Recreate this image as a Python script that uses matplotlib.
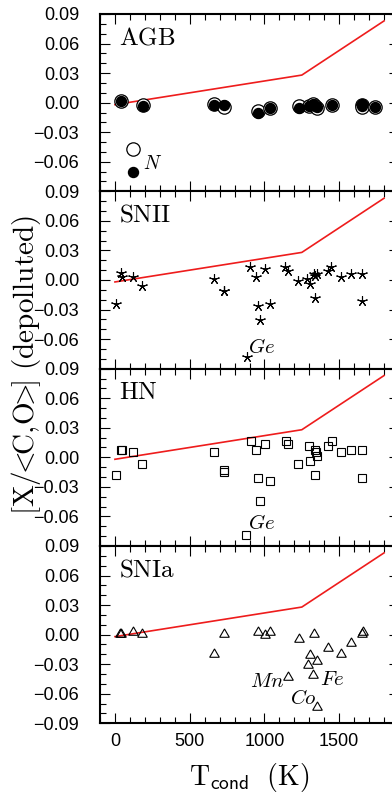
import numpy as np
import matplotlib
matplotlib.use('Agg')
import matplotlib.pyplot as plt
import matplotlib.ticker as mtick

plt.rcParams['mathtext.fontset'] = 'cm'
plt.rcParams['font.family'] = ['Liberation Sans', 'DejaVu Sans']

# THE DATA ****************************************************************

# red reference line (condensation trend)
line_t = [0, 1250, 1800]
line_y = [-0.002, 0.028, 0.083]

# AGB: open = before, filled = depolluted
agb_t = [42, 185, 662, 730, 955, 1039, 1228, 1300, 1325, 1336, 1350, 1455, 1651, 1655, 1740]
agb_open = [0.0014, -0.0027, -0.0010, -0.0044, -0.0089, -0.0050, -0.0034, -0.0030,
            -0.0017, -0.0030, -0.0050, -0.0027, -0.0020, -0.0040, -0.0044]
agb_fill = [0.0017, -0.0037, -0.0027, -0.0027, -0.0102, -0.0050, -0.0050, -0.0030,
            -0.0017, -0.0035, -0.0045, -0.0027, -0.0015, -0.0030, -0.0044]
agb_n_t = 123
agb_n_open = -0.047
agb_n_fill = -0.070

snii_t = [9, 42, 45, 122, 182, 665, 728, 732, 883, 906, 941, 957, 968, 1001, 1037, 1135,
          1155, 1226, 1284, 1302, 1333, 1340, 1351, 1335, 1426, 1444, 1511, 1582, 1653, 1653]
snii_y = [-0.0244, 0.0068, 0.0034, 0.0034, -0.0061, 0.0010, -0.0112, -0.0108, -0.0786,
          0.0136, 0.0030, -0.0264, -0.0410, 0.0112, -0.0240, 0.0136, 0.0092, -0.0010,
          0.0010, -0.0037, 0.0058, 0.0040, 0.0058, -0.0186, 0.0095, 0.0136, 0.0034,
          0.0064, 0.0064, -0.0214]

hn_t = [9, 42, 47, 122, 180, 665, 730, 730, 879, 908, 946, 959, 968, 1003, 1037, 1141,
        1157, 1226, 1295, 1306, 1335, 1346, 1351, 1335, 1426, 1451, 1515, 1582, 1655, 1655]
hn_y = [-0.0178, 0.0079, 0.0079, 0.0051, -0.0065, 0.0051, -0.0127, -0.0150, -0.0790,
        0.0165, 0.0079, -0.0213, -0.0446, 0.0137, -0.0240, 0.0161, 0.0134, -0.0069,
        0.0113, -0.0038, 0.0079, 0.0051, 0.0017, -0.0178, 0.0113, 0.0168, 0.0051,
        0.0079, 0.0079, -0.0213]

snia_t = [35, 42, 122, 180, 665, 728, 955, 1003, 1039, 1228, 1333, 1306, 1293, 1351,
          1328, 1155, 1351, 1426, 1515, 1582, 1653, 1662]
snia_y = [0.0003, 0.0003, 0.0030, 0.0003, -0.0199, 0.0010, 0.0027, -0.0007, 0.0030,
          -0.0045, 0.0010, -0.0206, -0.0310, -0.0271, -0.0411, -0.0429, -0.0734,
          -0.0140, -0.0199, -0.0086, 0.0010, 0.0024]

panel_names = ['AGB', 'SNII', 'HN', 'SNIa']
ytick_vals = [-0.09, -0.06, -0.03, 0.00, 0.03, 0.06, 0.09]
ytick_text = ['\u22120.09', '\u22120.06', '\u22120.03', '0.00', '0.03', '0.06', '0.09']


# THE CHART ***************************************************************

W, H = 392, 793
fig = plt.figure(figsize=(W / 100, H / 100), dpi=100, facecolor='w')

top_px, bot_px = 14, 723.3
ph = (bot_px - top_px) / 4
left_px, right_px = 100, 399

axes = []
for i in range(4):
    b = 1 - (top_px + (i + 1) * ph) / H
    ax = fig.add_axes([left_px / W, b, (right_px - left_px) / W, ph / H])
    axes.append(ax)

for i, ax in enumerate(axes):
    ax.plot(line_t, line_y, color='#ee1c1c', lw=1.2, zorder=3)
    ax.set_xlim(-100, 1900)
    ax.set_ylim(-0.09, 0.09)
    ax.xaxis.set_major_locator(mtick.MultipleLocator(500))
    ax.xaxis.set_minor_locator(mtick.MultipleLocator(100))
    ax.yaxis.set_minor_locator(mtick.MultipleLocator(0.01))
    ax.set_yticks(ytick_vals)
    labels = list(ytick_text)
    if i < 3:
        labels[0] = ''
    ax.set_yticklabels(labels)
    ax.tick_params(which='both', direction='in', top=True, right=True, width=0.8)
    ax.tick_params(which='major', length=7.5)
    ax.tick_params(which='minor', length=4)
    ax.tick_params(axis='y', labelsize=13, pad=15)
    ax.tick_params(axis='x', labelsize=13, pad=7)
    if i < 3:
        ax.tick_params(axis='x', labelbottom=False)
    for s in ax.spines.values():
        s.set_linewidth(1.5)
    ax.text(30, 0.059, r'$\mathrm{%s}$' % panel_names[i], fontsize=18, ha='left', va='baseline')

# AGB panel
ax = axes[0]
ax.plot(agb_t, agb_open, ls='none', marker='o', ms=9.6, mfc='w', mec='k', mew=0.9, zorder=4)
ax.plot(agb_t, agb_fill, ls='none', marker='o', ms=7.2, mfc='k', mec='k', zorder=5)
ax.plot([agb_n_t], [agb_n_open], ls='none', marker='o', ms=9.6, mfc='w', mec='k', mew=0.9)
ax.plot([agb_n_t], [agb_n_fill], ls='none', marker='o', ms=7.2, mfc='k', mec='k')
ax.text(187, -0.0675, r'$N$', fontsize=14, ha='left', va='baseline')

# SNII panel
ax = axes[1]
ax.plot(snii_t, snii_y, ls='none', marker=(5, 2, 0), ms=7.5, mec='k', mew=0.8, zorder=4)
ax.text(892, -0.0742, r'$Ge$', fontsize=15, ha='left', va='baseline')

# HN panel
ax = axes[2]
ax.plot(hn_t, hn_y, ls='none', marker='s', ms=5.8, mfc='none', mec='k', mew=0.8, zorder=4)
ax.text(892, -0.0727, r'$Ge$', fontsize=15, ha='left', va='baseline')

# SNIa panel
ax = axes[3]
ax.plot(snia_t, snia_y, ls='none', marker=(3, 0, 0), ms=8, mfc='none', mec='k', mew=0.8, zorder=4)
ax.text(903, -0.0532, r'$Mn$', fontsize=15, ha='left', va='baseline')
ax.text(1372, -0.0515, r'$Fe$', fontsize=15, ha='left', va='baseline')
ax.text(1171, -0.0700, r'$Co$', fontsize=15, ha='left', va='baseline')

# axis labels
fig.text(26 / W, 1 - 365 / H,
         r'$[\mathrm{X}/\!\!<\!\!\mathrm{C},\!\mathrm{O}\!\!>\!\!]\ \mathrm{(depolluted)}$',
         rotation=90, fontsize=21, ha='center', va='center')
fig.text(249.5 / W, 1 - 785 / H, r'$\mathrm{T}_{\mathsf{cond}}\ \ \mathrm{(K)}$',
         fontsize=20, ha='center', va='baseline')

fig.savefig('out.png', dpi=100)
